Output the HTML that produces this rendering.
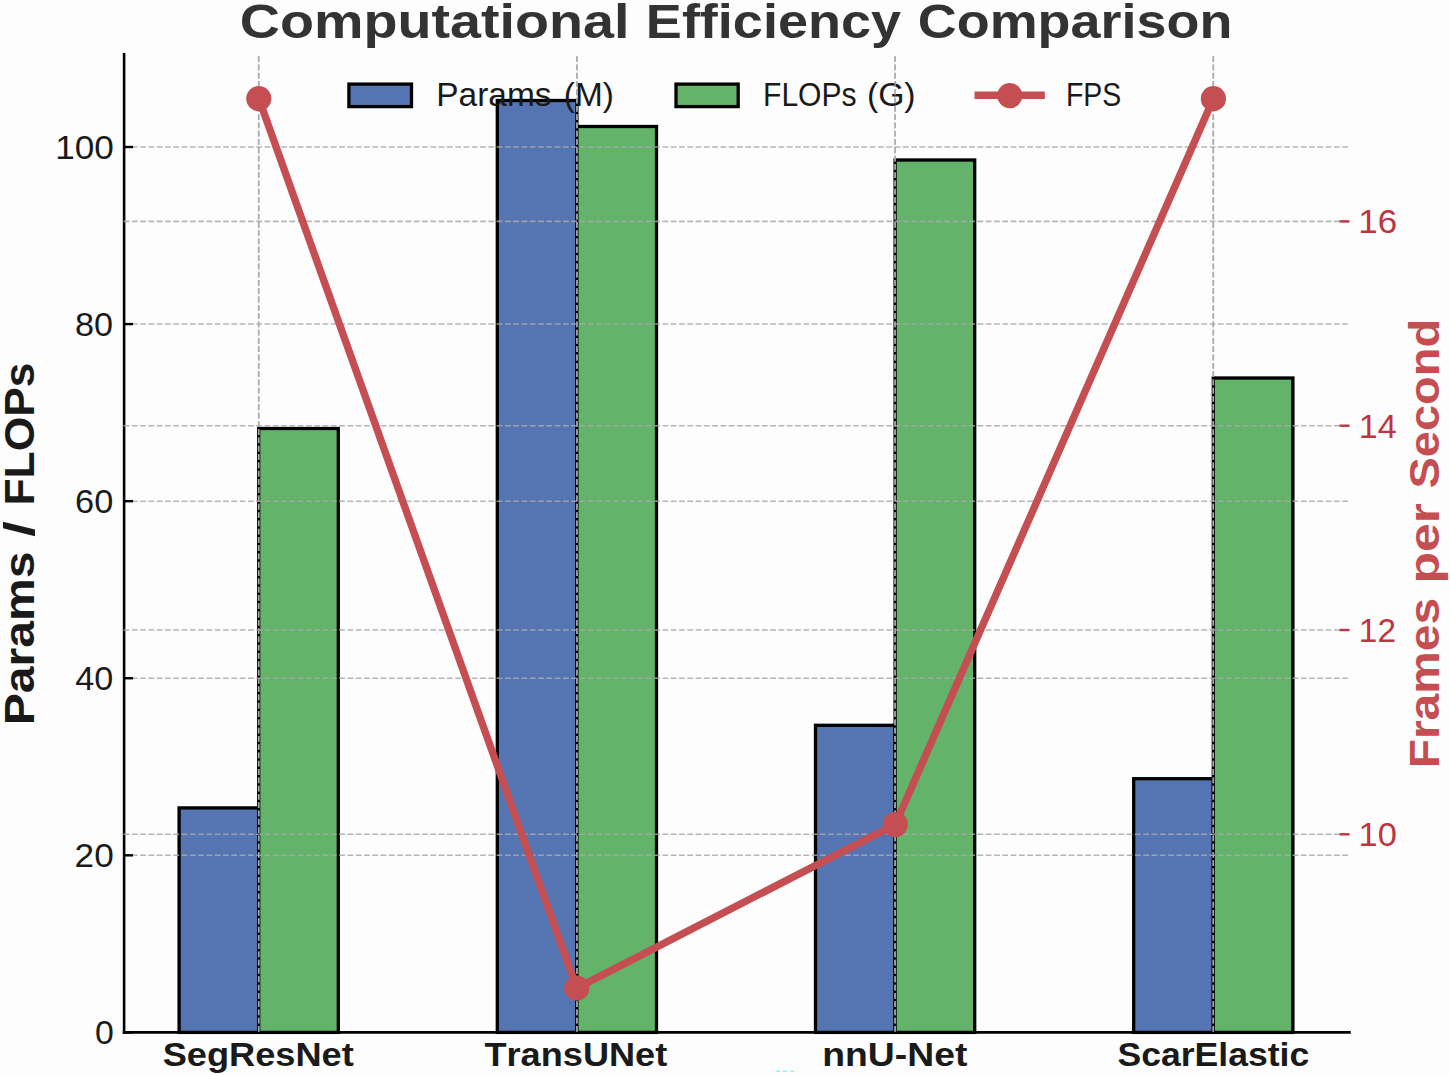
<!DOCTYPE html>
<html><head><meta charset="utf-8"><title>Computational Efficiency Comparison</title>
<style>html,body{margin:0;padding:0;background:#fdfdfd;}svg{display:block;font-family:"Liberation Sans",sans-serif;}</style>
</head><body>
<svg width="1450" height="1075" viewBox="0 0 1450 1075">
<rect x="0" y="0" width="1450" height="1075" fill="#fdfdfd"/>
<rect x="179.10" y="807.90" width="79.60" height="224.50" fill="#5475b2" stroke="#000" stroke-width="3.30"/>
<rect x="258.70" y="428.50" width="79.60" height="603.90" fill="#63b36b" stroke="#000" stroke-width="3.30"/>
<rect x="497.30" y="100.50" width="79.60" height="931.90" fill="#5475b2" stroke="#000" stroke-width="3.30"/>
<rect x="576.90" y="126.50" width="79.60" height="905.90" fill="#63b36b" stroke="#000" stroke-width="3.30"/>
<rect x="815.50" y="725.30" width="79.60" height="307.10" fill="#5475b2" stroke="#000" stroke-width="3.30"/>
<rect x="895.10" y="160.00" width="79.60" height="872.40" fill="#63b36b" stroke="#000" stroke-width="3.30"/>
<rect x="1133.70" y="778.70" width="79.60" height="253.70" fill="#5475b2" stroke="#000" stroke-width="3.30"/>
<rect x="1213.30" y="378.00" width="79.60" height="654.40" fill="#63b36b" stroke="#000" stroke-width="3.30"/>
<line x1="123.60" y1="855.32" x2="1349.50" y2="855.32" stroke="#a9a9a9" stroke-opacity="0.85" stroke-width="1.56" stroke-dasharray="5.79 2.5"/>
<line x1="123.60" y1="678.24" x2="1349.50" y2="678.24" stroke="#a9a9a9" stroke-opacity="0.85" stroke-width="1.56" stroke-dasharray="5.79 2.5"/>
<line x1="123.60" y1="501.16" x2="1349.50" y2="501.16" stroke="#a9a9a9" stroke-opacity="0.85" stroke-width="1.56" stroke-dasharray="5.79 2.5"/>
<line x1="123.60" y1="324.08" x2="1349.50" y2="324.08" stroke="#a9a9a9" stroke-opacity="0.85" stroke-width="1.56" stroke-dasharray="5.79 2.5"/>
<line x1="123.60" y1="147.00" x2="1349.50" y2="147.00" stroke="#a9a9a9" stroke-opacity="0.85" stroke-width="1.56" stroke-dasharray="5.79 2.5"/>
<line x1="258.70" y1="1031.90" x2="258.70" y2="54.40" stroke="#a9a9a9" stroke-opacity="0.85" stroke-width="1.56" stroke-dasharray="5.79 2.5"/>
<line x1="576.90" y1="1031.90" x2="576.90" y2="54.40" stroke="#a9a9a9" stroke-opacity="0.85" stroke-width="1.56" stroke-dasharray="5.79 2.5"/>
<line x1="895.10" y1="1031.90" x2="895.10" y2="54.40" stroke="#a9a9a9" stroke-opacity="0.85" stroke-width="1.56" stroke-dasharray="5.79 2.5"/>
<line x1="1213.30" y1="1031.90" x2="1213.30" y2="54.40" stroke="#a9a9a9" stroke-opacity="0.85" stroke-width="1.56" stroke-dasharray="5.79 2.5"/>
<line x1="124.10" y1="54.40" x2="124.10" y2="1032.40" stroke="#000" stroke-width="2.60" stroke-linecap="square"/>
<line x1="124.10" y1="1032.40" x2="1349.50" y2="1032.40" stroke="#000" stroke-width="2.60" stroke-linecap="square"/>
<line x1="124.10" y1="1032.40" x2="133.00" y2="1032.40" stroke="#000" stroke-width="2.40"/>
<line x1="124.10" y1="855.32" x2="133.00" y2="855.32" stroke="#000" stroke-width="2.40"/>
<line x1="124.10" y1="678.24" x2="133.00" y2="678.24" stroke="#000" stroke-width="2.40"/>
<line x1="124.10" y1="501.16" x2="133.00" y2="501.16" stroke="#000" stroke-width="2.40"/>
<line x1="124.10" y1="324.08" x2="133.00" y2="324.08" stroke="#000" stroke-width="2.40"/>
<line x1="124.10" y1="147.00" x2="133.00" y2="147.00" stroke="#000" stroke-width="2.40"/>
<rect x="348.90" y="84.10" width="62.60" height="22.50" fill="#5475b2" stroke="#000" stroke-width="3.30"/>
<rect x="676.00" y="84.10" width="62.20" height="22.50" fill="#63b36b" stroke="#000" stroke-width="3.30"/>
<g font-family="Liberation Sans, sans-serif" style="font-kerning:none">
<text x="436.25" y="106.40" font-size="33.50" textLength="115.36" lengthAdjust="spacingAndGlyphs" font-weight="normal" fill="#1a1a1a" >Params</text>
<text x="563.83" y="106.40" font-size="33.50" textLength="50.04" lengthAdjust="spacingAndGlyphs" font-weight="normal" fill="#1a1a1a" >(M)</text>
<text x="763.03" y="106.40" font-size="33.50" textLength="93.55" lengthAdjust="spacingAndGlyphs" font-weight="normal" fill="#1a1a1a" >FLOPs</text>
<text x="866.91" y="106.40" font-size="33.50" textLength="48.68" lengthAdjust="spacingAndGlyphs" font-weight="normal" fill="#1a1a1a" >(G)</text>
<text x="1065.97" y="106.40" font-size="33.50" textLength="55.34" lengthAdjust="spacingAndGlyphs" font-weight="normal" fill="#1a1a1a" >FPS</text>
</g>
<line x1="123.60" y1="834.30" x2="1349.50" y2="834.30" stroke="#a9a9a9" stroke-opacity="0.85" stroke-width="1.56" stroke-dasharray="5.79 2.5"/>
<line x1="123.60" y1="630.00" x2="1349.50" y2="630.00" stroke="#a9a9a9" stroke-opacity="0.85" stroke-width="1.56" stroke-dasharray="5.79 2.5"/>
<line x1="123.60" y1="425.70" x2="1349.50" y2="425.70" stroke="#a9a9a9" stroke-opacity="0.85" stroke-width="1.56" stroke-dasharray="5.79 2.5"/>
<line x1="123.60" y1="221.40" x2="1349.50" y2="221.40" stroke="#a9a9a9" stroke-opacity="0.85" stroke-width="1.56" stroke-dasharray="5.79 2.5"/>
<line x1="258.70" y1="1031.90" x2="258.70" y2="54.40" stroke="#a9a9a9" stroke-opacity="0.85" stroke-width="1.56" stroke-dasharray="5.79 2.5"/>
<line x1="576.90" y1="1031.90" x2="576.90" y2="54.40" stroke="#a9a9a9" stroke-opacity="0.85" stroke-width="1.56" stroke-dasharray="5.79 2.5"/>
<line x1="895.10" y1="1031.90" x2="895.10" y2="54.40" stroke="#a9a9a9" stroke-opacity="0.85" stroke-width="1.56" stroke-dasharray="5.79 2.5"/>
<line x1="1213.30" y1="1031.90" x2="1213.30" y2="54.40" stroke="#a9a9a9" stroke-opacity="0.85" stroke-width="1.56" stroke-dasharray="5.79 2.5"/>
<polyline points="258.80,98.60 576.80,988.10 895.30,824.50 1213.40,98.70" fill="none" stroke="#c44e52" stroke-width="7.40" stroke-linejoin="round" stroke-linecap="square"/>
<circle cx="258.80" cy="98.60" r="12.60" fill="#c44e52"/>
<circle cx="576.80" cy="988.10" r="12.60" fill="#c44e52"/>
<circle cx="895.30" cy="824.50" r="12.60" fill="#c44e52"/>
<circle cx="1213.40" cy="98.70" r="12.60" fill="#c44e52"/>
<line x1="974.50" y1="95.30" x2="1044.80" y2="95.30" stroke="#c44e52" stroke-width="7.40"/>
<circle cx="1009.80" cy="95.60" r="12.60" fill="#c44e52"/>
<line x1="1339.50" y1="834.30" x2="1349.50" y2="834.30" stroke="#bd3540" stroke-width="2.40"/>
<line x1="1339.50" y1="630.00" x2="1349.50" y2="630.00" stroke="#bd3540" stroke-width="2.40"/>
<line x1="1339.50" y1="425.70" x2="1349.50" y2="425.70" stroke="#bd3540" stroke-width="2.40"/>
<line x1="1339.50" y1="221.40" x2="1349.50" y2="221.40" stroke="#bd3540" stroke-width="2.40"/>
<g font-family="Liberation Sans, sans-serif" style="font-kerning:none">
<text x="94.98" y="1043.95" font-size="33.00" textLength="18.85" lengthAdjust="spacingAndGlyphs" font-weight="normal" fill="#1a1a1a" >0</text>
<text x="74.63" y="866.87" font-size="33.00" textLength="39.14" lengthAdjust="spacingAndGlyphs" font-weight="normal" fill="#1a1a1a" >20</text>
<text x="75.22" y="689.79" font-size="33.00" textLength="38.02" lengthAdjust="spacingAndGlyphs" font-weight="normal" fill="#1a1a1a" >40</text>
<text x="75.06" y="512.71" font-size="33.00" textLength="38.18" lengthAdjust="spacingAndGlyphs" font-weight="normal" fill="#1a1a1a" >60</text>
<text x="74.91" y="335.63" font-size="33.00" textLength="38.02" lengthAdjust="spacingAndGlyphs" font-weight="normal" fill="#1a1a1a" >80</text>
<text x="55.22" y="158.55" font-size="33.00" textLength="58.65" lengthAdjust="spacingAndGlyphs" font-weight="normal" fill="#1a1a1a" >100</text>
<text x="1358.58" y="846.10" font-size="33.00" textLength="38.26" lengthAdjust="spacingAndGlyphs" font-weight="normal" fill="#bd3540" >10</text>
<text x="1358.86" y="641.80" font-size="33.00" textLength="37.12" lengthAdjust="spacingAndGlyphs" font-weight="normal" fill="#bd3540" >12</text>
<text x="1358.81" y="437.50" font-size="33.00" textLength="37.89" lengthAdjust="spacingAndGlyphs" font-weight="normal" fill="#bd3540" >14</text>
<text x="1358.34" y="233.20" font-size="33.00" textLength="38.90" lengthAdjust="spacingAndGlyphs" font-weight="normal" fill="#bd3540" >16</text>
<text x="162.66" y="1066.10" font-size="33.00" textLength="191.08" lengthAdjust="spacingAndGlyphs" font-weight="bold" fill="#1a1a1a" >SegResNet</text>
<text x="484.49" y="1066.10" font-size="33.00" textLength="182.75" lengthAdjust="spacingAndGlyphs" font-weight="bold" fill="#1a1a1a" >TransUNet</text>
<text x="822.24" y="1066.10" font-size="33.00" textLength="145.12" lengthAdjust="spacingAndGlyphs" font-weight="bold" fill="#1a1a1a" >nnU-Net</text>
<text x="1117.48" y="1066.10" font-size="33.00" textLength="191.77" lengthAdjust="spacingAndGlyphs" font-weight="bold" fill="#1a1a1a" >ScarElastic</text>
<text x="239.72" y="38.30" font-size="48.90" textLength="389.73" lengthAdjust="spacingAndGlyphs" font-weight="bold" fill="#333333" >Computational</text>
<text x="645.89" y="38.30" font-size="48.90" textLength="255.10" lengthAdjust="spacingAndGlyphs" font-weight="bold" fill="#333333" >Efficiency</text>
<text x="917.79" y="38.30" font-size="48.90" textLength="314.55" lengthAdjust="spacingAndGlyphs" font-weight="bold" fill="#333333" >Comparison</text>
<text transform="translate(34.20,0) rotate(-90)" x="-725.22" y="0" font-size="43.30" textLength="173.79" lengthAdjust="spacingAndGlyphs" font-weight="bold" fill="#1a1a1a">Params</text>
<text transform="translate(34.20,0) rotate(-90)" x="-536.74" y="0" font-size="43.30" textLength="15.49" lengthAdjust="spacingAndGlyphs" font-weight="bold" fill="#1a1a1a">/</text>
<text transform="translate(34.20,0) rotate(-90)" x="-505.57" y="0" font-size="43.30" textLength="142.99" lengthAdjust="spacingAndGlyphs" font-weight="bold" fill="#1a1a1a">FLOPs</text>
<text transform="translate(1438.80,0) rotate(-90)" x="-768.31" y="0" font-size="43.30" textLength="170.47" lengthAdjust="spacingAndGlyphs" font-weight="bold" fill="#c44e52">Frames</text>
<text transform="translate(1438.80,0) rotate(-90)" x="-583.61" y="0" font-size="43.30" textLength="80.39" lengthAdjust="spacingAndGlyphs" font-weight="bold" fill="#c44e52">per</text>
<text transform="translate(1438.80,0) rotate(-90)" x="-488.55" y="0" font-size="43.30" textLength="169.65" lengthAdjust="spacingAndGlyphs" font-weight="bold" fill="#c44e52">Second</text>
</g>
<rect x="776.30" y="1070.40" width="3.70" height="1.6" fill="#86fbfb"/>
<rect x="782.90" y="1070.40" width="3.90" height="1.6" fill="#86fbfb"/>
<rect x="790.80" y="1070.40" width="3.20" height="1.6" fill="#86fbfb"/>
</svg>
</body></html>
